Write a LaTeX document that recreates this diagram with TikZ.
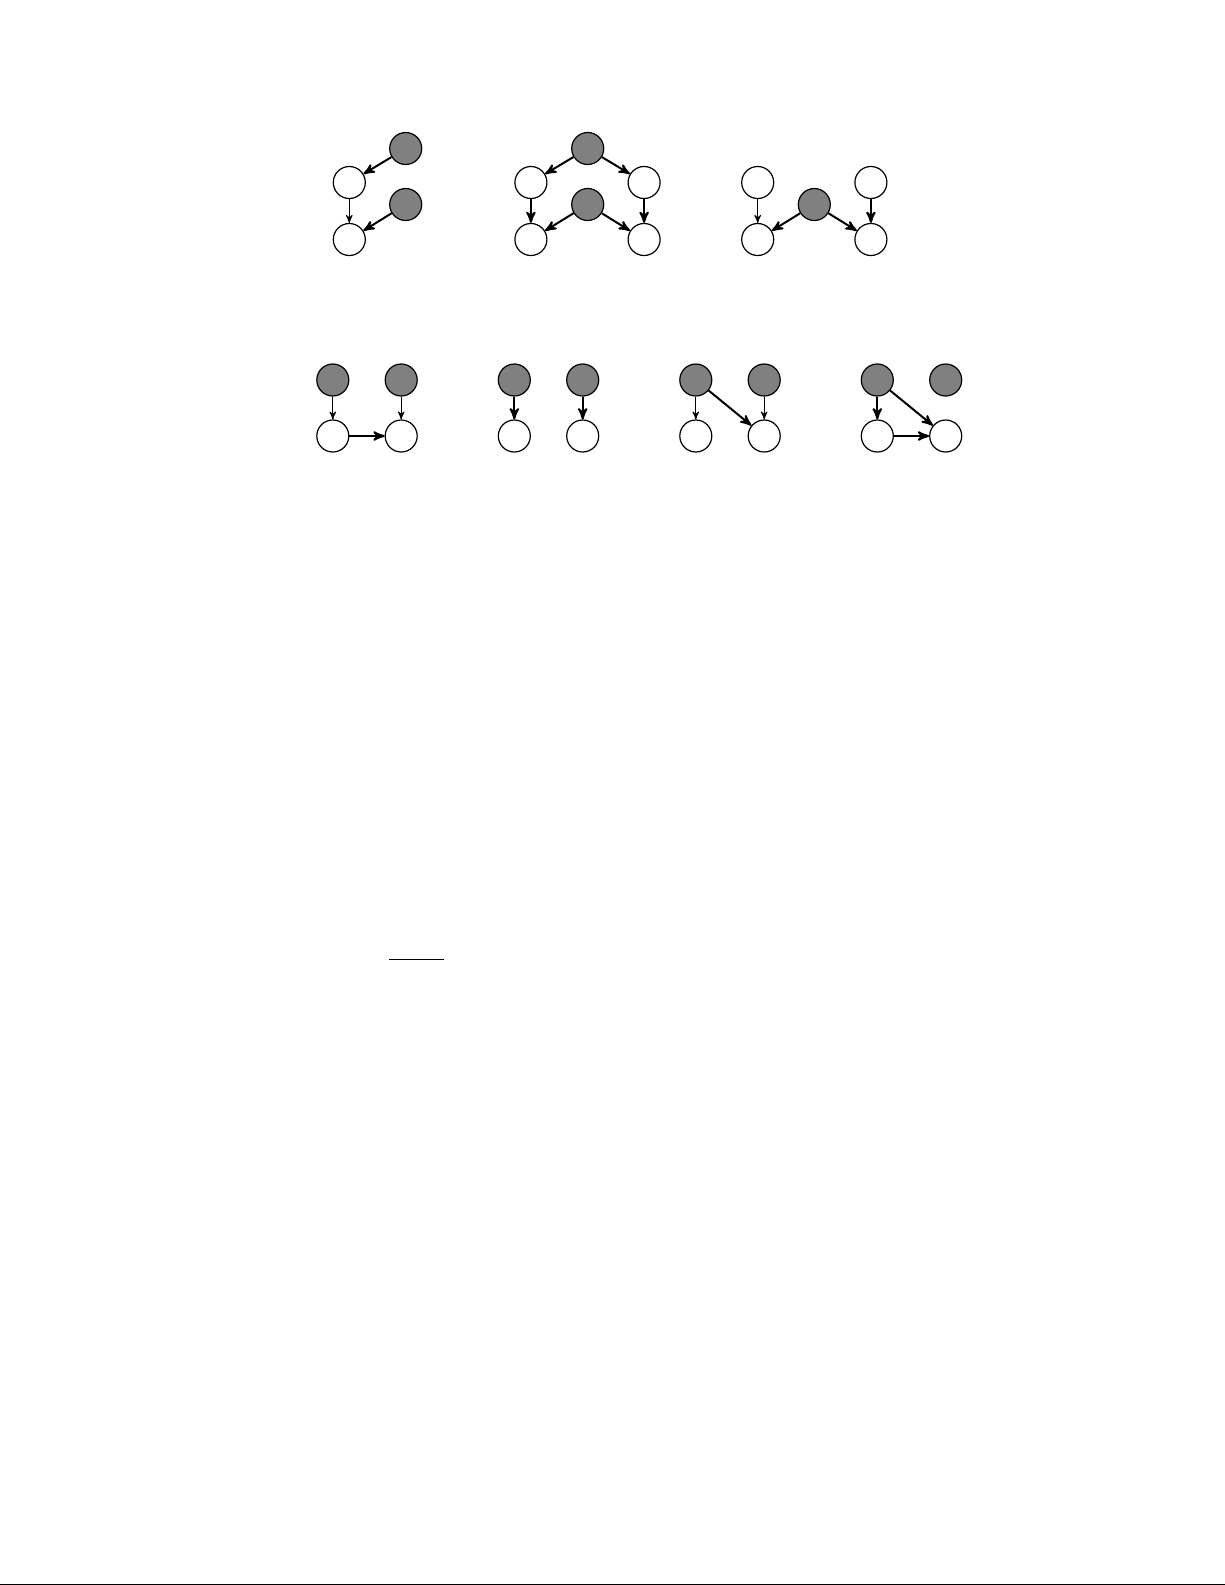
\documentclass[tikz,border=0pt]{standalone}
\usepackage{tikz}
\usetikzlibrary{positioning}
\usetikzlibrary{arrows}

\begin{document}
\begin{tikzpicture}[thick,node/.style={circle,draw,line width=0.6pt,minimum size=16pt,inner sep=0pt},
		  obs/.style={node,fill=white},lat/.style={node,fill=black!50}]

		  \useasboundingbox (0,0) rectangle (612.5pt,-792.5pt);

		  % 1. Reihe, links
		  \node[lat] (A1) at (202.85pt,-74.25pt) {};
		  \node[obs] (X1) [below left=17pt and 28.2pt of A1.center,anchor=center] {};
		  \node[lat] (A2) [below=28pt of A1.center,anchor=center] {};
		  \node[obs] (X2) [below=28.5pt of X1.center,anchor=center] {};

		  % 1. Reihe, Mitte
		  \node[lat] (B1) [right=91pt of A1.center,anchor=center] {};
		  \node[obs] (Y1) [below left=17pt and 28.4pt of B1.center,anchor=center] {};
		  \node[obs] (Y2) [below right=17pt and 28.2pt of B1.center,anchor=center] {};
		  \node[lat] (B2) [below=28pt of B1.center,anchor=center] {};
		  \node[obs] (Y3) [below=28.5pt of Y1.center,anchor=center] {};
		  \node[obs] (Y4) [below=28.5pt of Y2.center,anchor=center] {};

		  % 1. Reihe, rechts
		  \node[lat] (C1) [right=113.3pt of B2.center,anchor=center] {};
		  \node[obs] (Z1) [above left=11pt and 28.3pt of C1.center,anchor=center] {};
		  \node[obs] (Z2) [above right=11pt and 28.3pt of C1.center,anchor=center] {};
		  \node[obs] (Z3) [below=28.5pt of Z1.center,anchor=center] {};
		  \node[obs] (Z4) [below=28.5pt of Z2.center,anchor=center] {};

		  % 2. Reihe
		  \node[lat] (D1) at (166.4pt,-190pt) {};
		  \node[lat] (D2) [right=34.2pt of D1.center,anchor=center] {};
		  \node[obs] (U1) [below=28pt of D1.center,anchor=center] {};
		  \node[obs] (U2) [below=28pt of D2.center,anchor=center] {};

		  \node[lat] (E1) [right=90.75pt of D1.center,anchor=center] {};
		  \node[lat] (E2) [right=34.2pt of E1.center,anchor=center] {};
		  \node[obs] (V1) [below=28pt of E1.center,anchor=center] {};
		  \node[obs] (V2) [below=28pt of E2.center,anchor=center] {};

		  \node[lat] (F1) [right=90.75pt of E1.center,anchor=center] {};
		  \node[lat] (F2) [right=34.2pt of F1.center,anchor=center] {};
		  \node[obs] (W1) [below=28pt of F1.center,anchor=center] {};
		  \node[obs] (W2) [below=28pt of F2.center,anchor=center] {};

		  \node[lat] (H1) [right=90.75pt of F1.center,anchor=center] {};
		  \node[lat] (H2) [right=34.2pt of H1.center,anchor=center] {};
		  \node[obs] (Q1) [below=28pt of H1.center,anchor=center] {};
		  \node[obs] (Q2) [below=28pt of H2.center,anchor=center] {};

		  % Linien
		  \coordinate (r1) at (194.5pt,-479.6pt);
		  \coordinate (r2) at (222pt,-479.6pt);
		  \coordinate (s1) at (0pt,-792.1pt);
		  \coordinate (s2) at (612.5pt,-792.1pt);
		  \draw[line width=0.6pt] (r1) -- (r2);
		  \draw[line width=0.6pt] (s1) -- (s2);

		  \path[->,>=stealth',line width=1pt]
			(A1) edge (X1)
			(A2) edge (X2)
			(X1) edge[line width=0.5pt] (X2)

			(B1) edge (Y1)
				 edge (Y2)
			(Y1) edge (Y3)
			(Y2) edge (Y4)
			(B2) edge (Y3)
				 edge (Y4)

			(Z1) edge[line width=0.5pt] (Z3)
			(Z2) edge (Z4)
			(C1) edge (Z3)
				 edge (Z4)

			(D1) edge[line width=0.5pt] (U1)
			(D2) edge[line width=0.5pt] (U2)
			(U1) edge (U2)

			(E1) edge (V1)
			(E2) edge (V2)

			(F1) edge[line width=0.5pt] (W1)
				 edge (W2)
			(F2) edge[line width=0.5pt] (W2)

			(H1) edge (Q1)
				 edge (Q2)
			(Q1) edge (Q2);

		\end{tikzpicture}
\end{document}
